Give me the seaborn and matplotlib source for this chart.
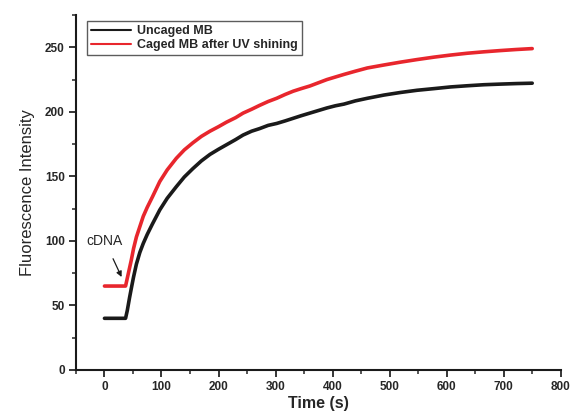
import pandas as pd
import matplotlib
matplotlib.use("Agg")
import matplotlib.pyplot as plt
from matplotlib.ticker import MultipleLocator
import seaborn as sns

# values
time_s = [0, 10, 20, 30, 37, 40, 44, 47, 51, 56, 62, 68, 75, 84, 97, 110, 126, 140,
          155, 170, 185, 200, 214, 230, 243, 258, 272, 287, 302, 317, 331, 345, 360,
          375, 390, 405, 420, 440, 461, 490, 519, 548, 578, 607, 636, 665, 695, 722, 750]
uncaged = [40, 40, 40, 40, 40, 46, 56, 63, 72, 82, 91, 98, 105, 113, 124, 133, 142, 149.5,
           156, 162, 167, 171, 174.5, 178.5, 182, 185, 187, 189.5, 191, 193, 195, 197, 199,
           201, 203, 204.7, 206, 208.5, 210.5, 213, 215, 216.7, 218, 219.3, 220.2, 221,
           221.5, 221.9, 222.2]
caged_uv = [65, 65, 65, 65, 65, 71, 79, 85, 94, 103, 111, 119, 126, 134, 146, 155, 164,
            170.5, 176, 181, 185, 188.5, 192, 195.5, 199, 202, 205, 208, 210.5, 213.5, 216,
            218, 220, 222.5, 225, 227, 229, 231.5, 234, 236.3, 238.5, 240.5, 242.4, 244,
            245.4, 246.5, 247.5, 248.3, 249]
series_names = ["Uncaged MB", "Caged MB after UV shining"]

df = pd.DataFrame({
    "Time": time_s * 2,
    "Intensity": uncaged + caged_uv,
    "Sample": [series_names[0]] * len(time_s) + [series_names[1]] * len(time_s),
})

sns.set_style("ticks")
plt.rcParams['font.family'] = ['Liberation Sans', 'DejaVu Sans']

fig = plt.figure(figsize=(5.71, 4.18), dpi=100)
ax = fig.add_axes([0.133, 0.115, 0.849, 0.849])

sns.lineplot(data=df, x="Time", y="Intensity", hue="Sample",
             palette=["#1a1a1a", "#e8262d"], linewidth=2.6, ax=ax)

ax.set_xlim(-50, 800)
ax.set_ylim(0, 275)
ax.xaxis.set_major_locator(MultipleLocator(100))
ax.xaxis.set_minor_locator(MultipleLocator(50))
ax.yaxis.set_major_locator(MultipleLocator(50))
ax.yaxis.set_minor_locator(MultipleLocator(25))
ax.tick_params(which="major", direction="out", length=5, width=1.3, labelsize=8.5, pad=3)
ax.tick_params(which="minor", direction="out", length=3, width=1.1)
for lbl in ax.get_xticklabels() + ax.get_yticklabels():
    lbl.set_fontweight("bold")
for side in ["top", "right"]:
    ax.spines[side].set_visible(False)
for side in ["left", "bottom"]:
    ax.spines[side].set_linewidth(1.5)
    ax.spines[side].set_color("#1a1a1a")

ax.set_xlabel("Time (s)", fontsize=11.5, fontweight="bold", labelpad=2)
ax.set_ylabel("Fluorescence Intensity", fontsize=12, labelpad=7)

ax.annotate("cDNA", xy=(30, 72), xytext=(0.5, 100), fontsize=10,
            ha="center", va="center",
            arrowprops=dict(arrowstyle="-|>", color="#1a1a1a", lw=0.9,
                            shrinkA=6, shrinkB=0, mutation_scale=8))

leg = ax.legend(loc="upper left", bbox_to_anchor=(0.01, 1.0), frameon=True,
                fancybox=False, edgecolor="#333333", fontsize=9,
                handlelength=3.2, handletextpad=0.5, borderpad=0.3,
                labelspacing=0.15, title=None)
leg.get_frame().set_linewidth(1.0)
for txt in leg.get_texts():
    txt.set_fontweight("bold")
for line in leg.get_lines():
    line.set_linewidth(1.5)

fig.savefig("out.png", dpi=100)
